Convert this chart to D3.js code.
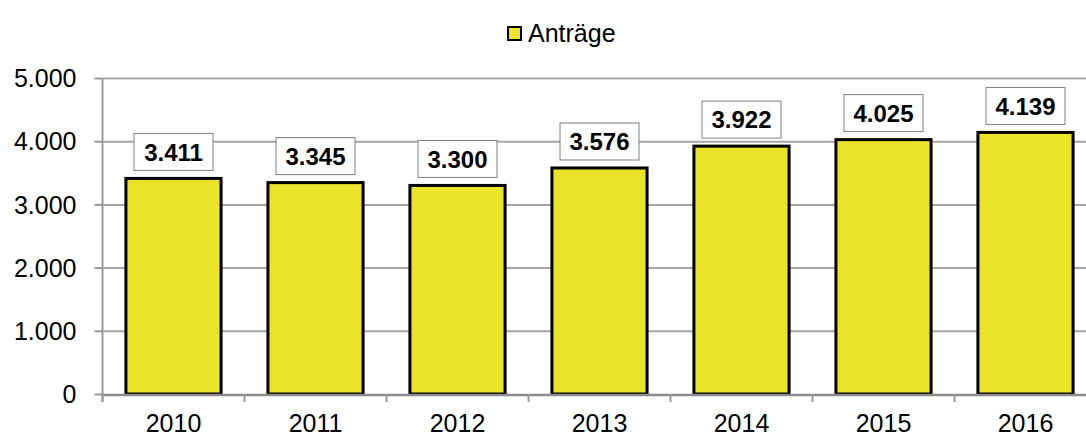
<!DOCTYPE html>
<html>
<head>
<meta charset="utf-8">
<script src="https://cdn.jsdelivr.net/npm/d3@7"></script>
<style>
  html, body { margin: 0; padding: 0; background: #fff; }
  svg { display: block; font-family: "Liberation Sans", Arial, sans-serif; }
</style>
</head>
<body>
<svg id="chart" width="1086" height="437"></svg>
<script>
const years = ["2010", "2011", "2012", "2013", "2014", "2015", "2016"];
const antraege = [3411, 3345, 3300, 3576, 3922, 4025, 4139];
const yTicks = [0, 1000, 2000, 3000, 4000, 5000];
const seriesName = "Anträge";

const data = years.map((y, i) => ({ year: y, value: antraege[i] }));
const svg = d3.select("#chart");

const mLeft = 102.5, mRight = 1096.5, mTop = 78, mBottom = 394;
const x = d3.scaleBand().domain(years).range([mLeft, mRight]).paddingInner(0.33).paddingOuter(0.165);
const y = d3.scaleLinear().domain([0, 5000]).range([mBottom, mTop]);
const fmt = v => d3.format(",")(v).replace(/,/g, ".");
const step = x.step();

// gridlines
svg.append("g")
  .attr("transform", `translate(${mLeft},0)`)
  .call(d3.axisLeft(y).tickValues(yTicks.filter(t => t > 0)).tickSize(-(1086 - mLeft)).tickFormat(""))
  .call(g => g.select(".domain").remove())
  .call(g => g.selectAll("line").attr("stroke", "#a6a6a6").attr("stroke-width", 2));

// y axis
const yAxis = svg.append("g")
  .attr("transform", `translate(${mLeft},0)`)
  .call(d3.axisLeft(y).tickValues(yTicks).tickSize(8).tickPadding(18).tickFormat(fmt));
yAxis.select(".domain").attr("stroke", "#999").attr("stroke-width", 2).attr("d", `M0,${mTop}V${mBottom + 8}`);
yAxis.selectAll("line").attr("stroke", "#999").attr("stroke-width", 2);
yAxis.selectAll("text").attr("font-size", 25).attr("fill", "#000")
  .attr("font-family", "'Liberation Sans', Arial, sans-serif").attr("dy", "0.35em");

// bars
svg.append("g").selectAll("rect").data(data).join("rect")
  .attr("x", d => x(d.year))
  .attr("y", d => y(d.value))
  .attr("width", x.bandwidth())
  .attr("height", d => y(0) - y(d.value))
  .attr("fill", "#ebe22a")
  .attr("stroke", "#000")
  .attr("stroke-width", 3);

// x axis baseline
svg.append("line")
  .attr("x1", mLeft).attr("x2", 1086).attr("y1", y(0) + 1).attr("y2", y(0) + 1)
  .attr("stroke", "#8c8c8c").attr("stroke-width", 2.5);

// category boundary ticks
svg.append("g").selectAll("line").data(years).join("line")
  .attr("x1", d => x(d) - step * 0.165).attr("x2", d => x(d) - step * 0.165)
  .attr("y1", y(0)).attr("y2", y(0) + 8)
  .attr("stroke", "#999").attr("stroke-width", 2);

// x labels
const xAxis = svg.append("g")
  .attr("transform", `translate(0,${mBottom})`)
  .call(d3.axisBottom(x).tickSize(0).tickPadding(20));
xAxis.select(".domain").remove();
xAxis.selectAll("text").attr("font-size", 25).attr("fill", "#000")
  .attr("font-family", "'Liberation Sans', Arial, sans-serif");

// value labels
const lbl = svg.append("g").selectAll("g").data(data).join("g")
  .attr("transform", d => `translate(${x(d.year) + x.bandwidth() / 2},${y(d.value) - 8})`);
lbl.append("rect")
  .attr("x", -39.5).attr("y", -37).attr("width", 79).attr("height", 37)
  .attr("fill", "#fff").attr("stroke", "#808080").attr("stroke-width", 1);
lbl.append("text")
  .attr("text-anchor", "middle").attr("y", -18.5).attr("dy", "0.36em")
  .attr("font-size", 24).attr("font-weight", "bold")
  .text(d => fmt(d.value));

// legend
const lg = svg.append("g").attr("transform", "translate(507,26)");
lg.append("rect").attr("x", 1).attr("y", 1).attr("width", 13).attr("height", 13)
  .attr("fill", "#ebe22a").attr("stroke", "#000").attr("stroke-width", 2);
lg.append("text").attr("x", 21).attr("y", 7.5).attr("dy", "0.35em")
  .attr("font-size", 25).text(seriesName);
</script>
</body>
</html>
